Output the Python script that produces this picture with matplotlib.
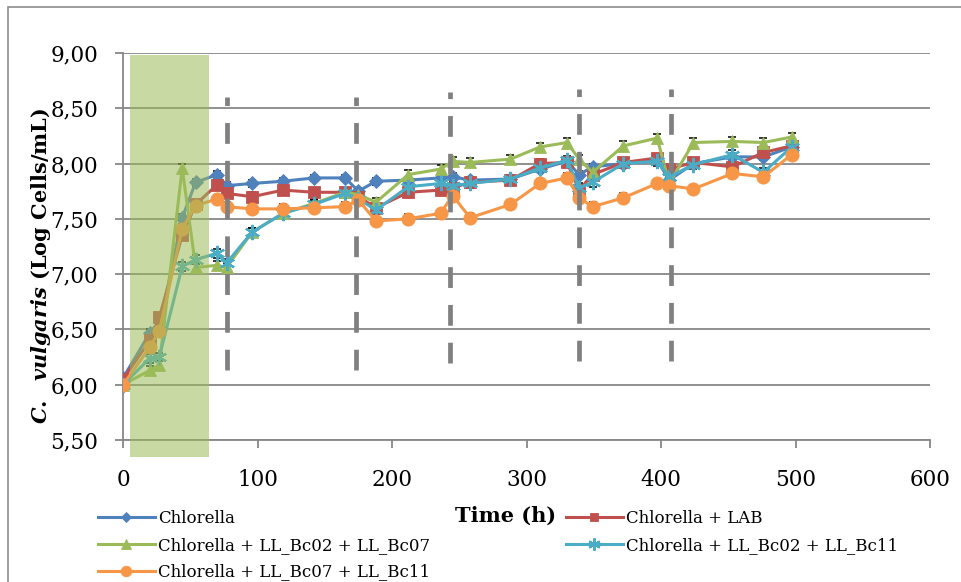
import matplotlib.pyplot as plt
from matplotlib.patches import Rectangle
from matplotlib.ticker import FuncFormatter

# Data
time_h = [0, 20, 27, 44, 54, 70, 77, 96, 119, 142, 165, 175, 188, 212, 236,
          245, 258, 288, 310, 330, 339, 349, 372, 397, 406, 424, 453, 476, 497]

chlorella = [6.06, 6.47, 6.52, 7.51, 7.83, 7.90, 7.80, 7.82, 7.84, 7.87, 7.87,
             7.75, 7.84, 7.85, 7.87, 7.88, 7.85, 7.86, 7.95, 8.02, 7.90, 7.97,
             8.00, 8.03, 7.85, 8.00, 8.06, 8.06, 8.15]
chlorella_lab = [6.05, 6.40, 6.61, 7.35, 7.63, 7.81, 7.73, 7.70, 7.76, 7.74, 7.74,
                 7.70, 7.60, 7.74, 7.76, 7.78, 7.83, 7.85, 8.00, 8.01, 7.76, 7.90,
                 8.01, 8.05, 7.95, 8.01, 7.97, 8.10, 8.16]
bc02_bc07 = [6.00, 6.13, 6.18, 7.96, 7.06, 7.08, 7.06, 7.38, 7.55, 7.64, 7.74,
             7.72, 7.65, 7.90, 7.95, 8.02, 8.01, 8.04, 8.15, 8.19, 8.04, 7.92,
             8.16, 8.23, 7.82, 8.19, 8.20, 8.19, 8.24]
bc02_bc11 = [6.00, 6.24, 6.25, 7.07, 7.13, 7.19, 7.10, 7.38, 7.55, 7.63, 7.73,
             7.68, 7.58, 7.79, 7.82, 7.80, 7.82, 7.86, 7.96, 8.03, 7.78, 7.83,
             8.00, 8.02, 7.88, 7.99, 8.08, 7.92, 8.15]
bc07_bc11 = [6.00, 6.34, 6.49, 7.41, 7.62, 7.68, 7.61, 7.59, 7.59, 7.60, 7.61,
             7.67, 7.48, 7.50, 7.55, 7.71, 7.51, 7.63, 7.82, 7.87, 7.69, 7.61,
             7.69, 7.82, 7.80, 7.77, 7.91, 7.88, 8.08]

# approximate standard deviation per series
errors = [0.03, 0.04, 0.04, 0.04, 0.04]

labels = ["Chlorella", "Chlorella + LAB", "Chlorella + LL_Bc02 + LL_Bc07",
          "Chlorella + LL_Bc02 + LL_Bc11", "Chlorella + LL_Bc07 + LL_Bc11"]

# feeding events (dashed lines) and the shaded window
dash_x = [77, 173, 243, 339, 407]
dash_top = [8.60, 8.60, 8.65, 8.67, 8.67]
dash_bottom = [6.13, 6.13, 6.20, 6.21, 6.21]
shade_start, shade_end = 5, 64

plt.rcParams.update({
    "font.family": "DejaVu Serif",
    "mathtext.fontset": "custom",
    "mathtext.it": "DejaVu Serif:italic:bold",
    "mathtext.rm": "DejaVu Serif:bold",
})

grey = "#878787"

fig = plt.figure(figsize=(9.61, 5.82), dpi=100)
ax = fig.add_axes([0.128, 0.244, 0.840, 0.665])

# outer chart border (left/top visible)
fig.patches.append(Rectangle((8 / 961, -0.2), 1.2, 1.2 - 7 / 582,
                             transform=fig.transFigure, fill=False,
                             edgecolor="#8c8c8c", lw=1.2))

series = [
    (chlorella, "#4F81BD", "D", 7),
    (chlorella_lab, "#C0504D", "s", 8),
    (bc02_bc07, "#9BBB59", "^", 9),
    (bc02_bc11, "#4BACC6", (6, 2, 0), 11),
    (bc07_bc11, "#F79646", "o", 9.5),
]

handles = []
for (vals, color, marker, ms), err, lab in zip(series, errors, labels):
    ax.errorbar(time_h, vals, yerr=err, fmt="none", ecolor="black",
                elinewidth=0.6, capsize=3, capthick=1.1, zorder=3)
    h, = ax.plot(time_h, vals, color=color, lw=2.2, marker=marker, ms=ms,
                 markerfacecolor=color, markeredgecolor=color,
                 markeredgewidth=1.6 if marker == (6, 2, 0) else 0.6,
                 label=lab, zorder=4)
    handles.append(h)

ax.vlines(dash_x, dash_bottom, dash_top, colors="#808080", lw=3.4,
          linestyles=(0, (4.4, 3.6)), zorder=5)

ax.add_patch(Rectangle((shade_start, 5.35), shade_end - shade_start, 3.63,
                       facecolor="#9BBB59", alpha=0.55, edgecolor="none",
                       zorder=6, clip_on=False))

ax.set_xlim(0, 600)
ax.set_ylim(5.5, 9.0)
ax.set_xticks(range(0, 601, 100))
ax.set_yticks([5.5, 6.0, 6.5, 7.0, 7.5, 8.0, 8.5, 9.0])
ax.yaxis.set_major_formatter(FuncFormatter(lambda v, p: f"{v:.2f}".replace(".", ",")))
ax.grid(axis="y", color=grey, lw=1.3)
ax.set_axisbelow(True)
for side in ["top", "right"]:
    ax.spines[side].set_visible(False)
for side in ["left", "bottom"]:
    ax.spines[side].set_color(grey)
    ax.spines[side].set_linewidth(1.3)
ax.tick_params(axis="y", length=6, width=1.3, color=grey, pad=12, labelsize=15.5)
ax.tick_params(axis="x", length=6, width=1.3, color=grey, pad=15, labelsize=15.5)

ax.set_ylabel(r"$C.\ \ vulgaris$ (Log Cells/mL)", fontsize=15, fontweight="bold")
ax.yaxis.set_label_coords(-0.087, 0.45)

fig.text(506 / 961, 1 - 516 / 582, "Time (h)", fontsize=15, fontweight="bold",
         ha="center", va="center")

leg_kw = dict(frameon=False, fontsize=12, handlelength=3.4, handletextpad=0.2,
              labelspacing=0.58, borderaxespad=0, borderpad=0, markerscale=0.8)
leg1 = fig.legend([handles[0], handles[2], handles[4]],
                  [labels[0], labels[2], labels[4]],
                  loc="upper left", bbox_to_anchor=(98 / 961, 1 - 510 / 582), **leg_kw)
leg2 = fig.legend([handles[1], handles[3]], [labels[1], labels[3]],
                  loc="upper left", bbox_to_anchor=(566 / 961, 1 - 510 / 582), **leg_kw)

fig.savefig("out.png", dpi=100)
